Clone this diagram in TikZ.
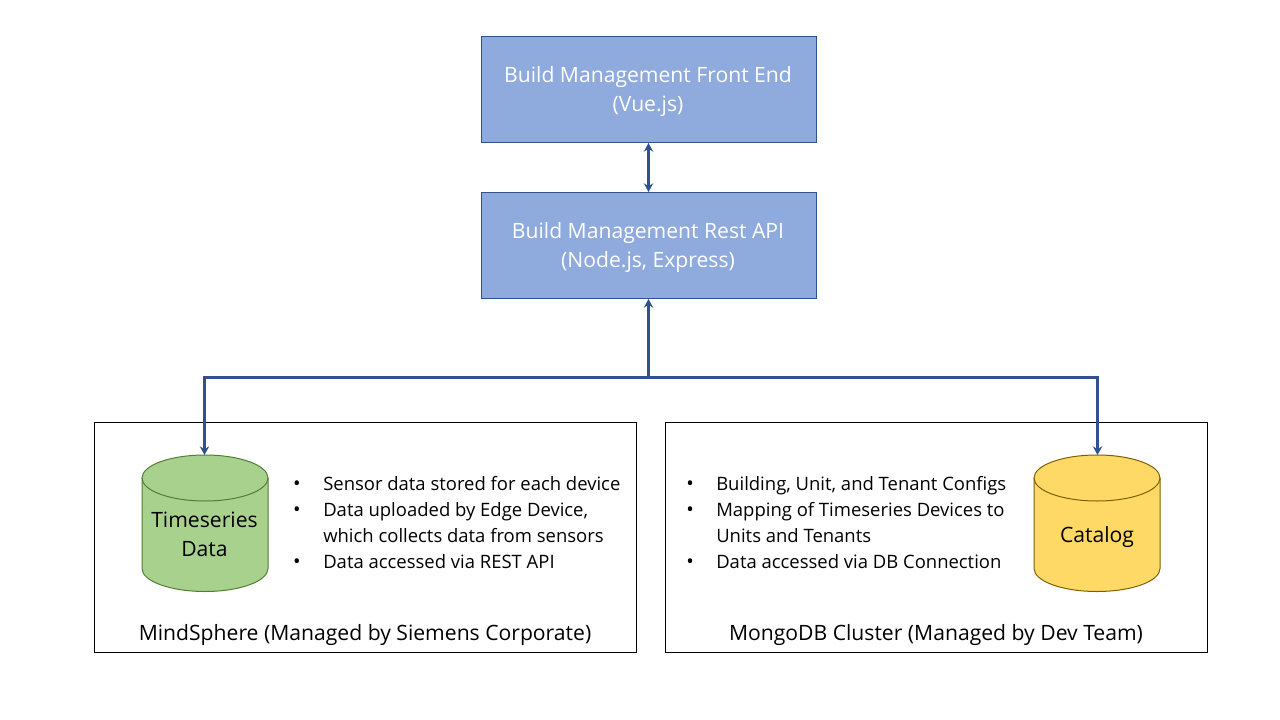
\documentclass[tikz,border=0pt]{standalone}
\usepackage{fontspec}
\setmainfont{Open Sans}
\usetikzlibrary{arrows.meta}
\definecolor{boxfill}{HTML}{8FAADC}
\definecolor{boxline}{HTML}{2F528F}
\definecolor{grn}{HTML}{A9D18E}
\definecolor{grnl}{HTML}{507E32}
\definecolor{yel}{HTML}{FFD966}
\definecolor{yell}{HTML}{7F6000}
\tikzset{
 x=0.75pt,y=-0.75pt,
 bluebox/.style={draw=boxline,fill=boxfill,line width=0.75pt,minimum width=251.25pt,minimum height=79.5pt,inner sep=0pt,align=center,text=white,font=\fontsize{15.85pt}{21.75pt}\selectfont},
 panel/.style={draw=black,line width=0.75pt,minimum width=406.5pt,minimum height=172.5pt,inner sep=0pt},
 panellabel/.style={font=\fontsize{15.85pt}{18pt}\selectfont,anchor=center},
 bul/.style={font=\fontsize{13.85pt}{17.3pt}\selectfont,anchor=west,align=left,inner sep=0pt,text height=10pt,text depth=3pt},
 bdot/.style={font=\fontsize{15pt}{15pt}\selectfont,inner sep=0pt},
 con/.style={draw=boxline,line width=2.25pt},
 dbl/.style={font=\fontsize{15.85pt}{21.75pt}\selectfont,align=center},
}
\begin{document}
\begin{tikzpicture}
\useasboundingbox[fill=white] (0,0) rectangle (1280,720);
\node[bluebox] (fe) at (648.5,89.5) {};
\node[bluebox] (api) at (648.5,245.5) {};
\node[bluebox,draw=none,fill=none] (fet) at (648,91.5) {Build Management Front End\\(Vue.js)};
\node[bluebox,draw=none,fill=none] (apit) at (648,247.5) {Build Management Rest API\\(Node.js, Express)};
\node[panel] (p1) at (365.5,537.5) {};
\node[panel] (p2) at (936.5,537.5) {};
\node[panellabel] (l1) at (365,635) {MindSphere (Managed by Siemens Corporate)};
\node[panellabel] (l2) at (936,635) {MongoDB Cluster (Managed by Dev Team)};
% cylinders
\draw[draw=grnl,fill=grn,line width=0.75pt] (142,478) -- (142,568.5) arc[x radius=63,y radius=23,start angle=180,end angle=0] -- (268,478) arc[x radius=63,y radius=23,start angle=0,end angle=-180] -- cycle;
\draw[draw=grnl,line width=0.75pt] (142,478) arc[x radius=63,y radius=23,start angle=180,end angle=0];
\draw[draw=yell,fill=yel,line width=0.75pt] (1034,478) -- (1034,568.5) arc[x radius=63,y radius=23,start angle=180,end angle=0] -- (1160,478) arc[x radius=63,y radius=23,start angle=0,end angle=-180] -- cycle;
\draw[draw=yell,line width=0.75pt] (1034,478) arc[x radius=63,y radius=23,start angle=180,end angle=0];
\coordinate (c1) at (204.5,455);
\coordinate (c2) at (1097.5,455);
\coordinate (j) at (648.5,377.5);
\node[dbl] (t1) at (204.5,534) {Timeseries\\Data};
\node[dbl] (t2) at (1097,537) {Catalog};
\foreach \yy/\tt [count=\i] in {486/Sensor data stored for each device,512/{Data uploaded by Edge Device,},537.5/{which collects data from sensors},563.5/Data accessed via REST API}{
  \node[bul] (a\i) at (323,\yy) {\tt};
}
\foreach \yy [count=\i] in {486,512,563.5}{\node[bdot] (da\i) at (297,\yy) {•};}
\foreach \yy/\tt [count=\i] in {486/{Building, Unit, and Tenant Configs},512/Mapping of Timeseries Devices to,537.5/Units and Tenants,563.5/Data accessed via DB Connection}{
  \node[bul] (b\i) at (716,\yy) {\tt};
}
\foreach \yy [count=\i] in {486,512,563.5}{\node[bdot] (db\i) at (690,\yy) {•};}
% connectors
\draw[con,{Stealth[length=6.5pt,width=7pt]}-{Stealth[length=6.5pt,width=7pt]}] (fe.south) -- (api.north);
\draw[con,-{Stealth[length=6.5pt,width=7pt]}] (j) -- (api.south);
\draw[con,-{Stealth[length=6.5pt,width=7pt]}] (j) -| (c1);
\draw[con,-{Stealth[length=6.5pt,width=7pt]}] (j) -| (c2);
\end{tikzpicture}
\end{document}
